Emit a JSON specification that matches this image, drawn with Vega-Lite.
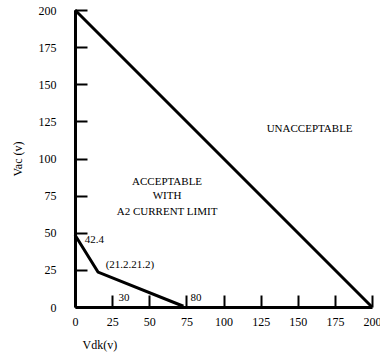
{
  "$schema": "https://vega.github.io/schema/vega-lite/v6.json",
  "width": 297,
  "height": 297,
  "autosize": {"type": "none"},
  "padding": {"left": 75, "top": 10, "right": 8, "bottom": 52},
  "background": "white",
  "config": {
    "view": {"stroke": null},
    "font": "Liberation Serif",
    "axis": {
      "grid": false,
      "domainColor": "black",
      "domainWidth": 3,
      "tickColor": "black",
      "tickWidth": 2,
      "tickSize": -12,
      "labelColor": "black",
      "labelFont": "Liberation Serif",
      "labelFontSize": 12,
      "labelOverlap": false,
      "titleFont": "Liberation Serif",
      "titleFontSize": 12,
      "titleFontWeight": "normal",
      "titleColor": "black"
    }
  },
  "datasets": {
    "lines": [
      {"s": "limit", "o": 0, "x": 0, "y": 200},
      {"s": "limit", "o": 1, "x": 200, "y": 0},
      {"s": "a2", "o": 0, "x": 0, "y": 48.5},
      {"s": "a2", "o": 1, "x": 15.5, "y": 23.5},
      {"s": "a2", "o": 2, "x": 73, "y": 0.5}
    ],
    "labels": [
      {"x": 158, "y": 120, "t": "UNACCEPTABLE"},
      {"x": 62, "y": 84, "t": "ACCEPTABLE"},
      {"x": 62, "y": 74.5, "t": "WITH"},
      {"x": 62, "y": 64, "t": "A2 CURRENT LIMIT"},
      {"x": 13, "y": 45, "t": "42.4"},
      {"x": 37, "y": 28, "t": "(21.2.21.2)"},
      {"x": 33, "y": 6, "t": "30"},
      {"x": 81.5, "y": 6, "t": "80"}
    ]
  },
  "encoding": {
    "x": {"field": "x", "type": "quantitative", "scale": {"domain": [0, 200], "nice": false},
      "axis": {"values": [0, 25, 50, 75, 100, 125, 150, 175, 200], "title": "Vdk(v)", "labelPadding": 21, "titleAnchor": "start", "titleX": 7, "titlePadding": 12, "titleAlign": "left", "labelFlush": false}},
    "y": {"field": "y", "type": "quantitative", "scale": {"domain": [0, 200], "nice": false},
      "axis": {"values": [0, 25, 50, 75, 100, 125, 150, 175, 200], "title": "Vac (v)", "labelPadding": 31, "titlePadding": 14, "labelFlush": false}}
  },
  "layer": [
    {
      "data": {"name": "lines"},
      "mark": {"type": "line", "color": "black", "strokeWidth": 3},
      "encoding": {
        "detail": {"field": "s"},
        "order": {"field": "o"}
      }
    },
    {
      "data": {"name": "labels"},
      "mark": {"type": "text", "font": "Liberation Serif", "fontSize": 11, "color": "black"},
      "encoding": {
        "text": {"field": "t"}
      }
    }
  ]
}
